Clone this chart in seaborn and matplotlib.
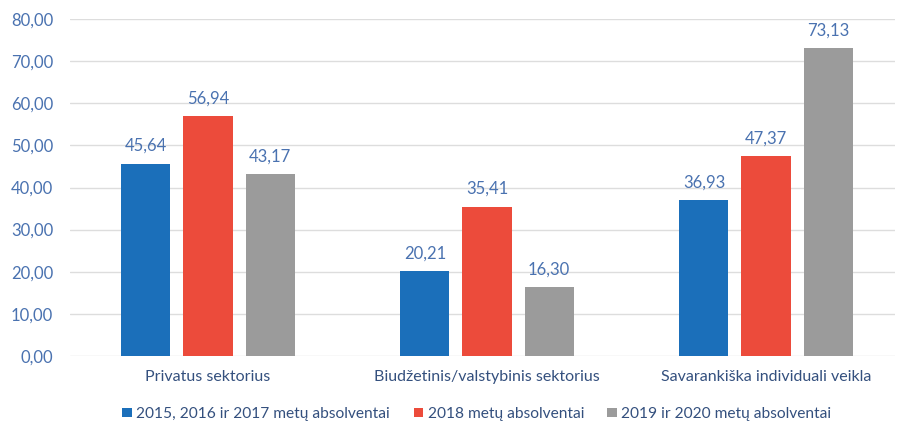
import pandas as pd
import matplotlib.pyplot as plt
import seaborn as sns
from matplotlib.patches import Patch

# Duomenys
kategorijos = ['Privatus sektorius', 'Biudžetinis/valstybinis sektorius', 'Savarankiška individuali veikla']
grupes = ['2015, 2016 ir 2017 metų absolventai', '2018 metų absolventai', '2019 ir 2020 metų absolventai']
reiksmes_2015_2017 = [45.64, 20.21, 36.93]
reiksmes_2018 = [56.94, 35.41, 47.37]
reiksmes_2019_2020 = [43.17, 16.30, 73.13]
y_ticks = [0, 10, 20, 30, 40, 50, 60, 70, 80]

spalvos = ['#1b6fba', '#ec4b3b', '#9b9b9b']
teksto_spalva = '#4a72b0'
kategoriju_spalva = '#34507e'

df = pd.DataFrame({
    'kategorija': kategorijos * 3,
    'grupe': [grupes[0]] * 3 + [grupes[1]] * 3 + [grupes[2]] * 3,
    'reiksme': reiksmes_2015_2017 + reiksmes_2018 + reiksmes_2019_2020,
})

sns.set_style('white')
plt.rcParams['font.family'] = ['Lato', 'DejaVu Sans']

fig = plt.figure(figsize=(9, 4.25), dpi=100)
ax = fig.add_axes([70 / 900, 69 / 425, 825 / 900, 337 / 425])

sns.barplot(data=df, x='kategorija', y='reiksme', hue='grupe', order=kategorijos,
            hue_order=grupes, palette=spalvos, width=0.667, saturation=1,
            legend=False, ax=ax, zorder=3)

# tarpai tarp stulpelių
for p in ax.patches:
    w = p.get_width()
    nw = w * 0.79
    p.set_x(p.get_x() + (w - nw) / 2)
    p.set_width(nw)
    p.set_edgecolor('none')

for cont in ax.containers:
    ax.bar_label(cont, labels=[f'{v:.2f}'.replace('.', ',') for v in cont.datavalues],
                 padding=7, color=teksto_spalva, fontsize=12)

ax.set_ylim(0, 80)
ax.set_xlim((70 - 208) / 279, (895 - 208) / 279)
ax.set_yticks(y_ticks)
ax.set_yticklabels([f'{t:.2f}'.replace('.', ',') for t in y_ticks], color=teksto_spalva, fontsize=12)
ax.tick_params(axis='y', length=0, pad=12)
ax.tick_params(axis='x', length=0, pad=10, labelsize=11.5, labelcolor=kategoriju_spalva)
ax.grid(axis='y', color='#dddddd', linewidth=1, zorder=0)
ax.set_xlabel('')
ax.set_ylabel('')
for s in ax.spines.values():
    s.set_visible(False)

rankenos = [Patch(facecolor=c, edgecolor='none') for c in spalvos]
leg = fig.legend(rankenos, grupes, loc='center', bbox_to_anchor=(0.53, 11 / 425), ncol=3,
                 frameon=False, handlelength=0.6, handleheight=0.6, handletextpad=0.3,
                 columnspacing=1.5, fontsize=11.2)
for t in leg.get_texts():
    t.set_color(kategoriju_spalva)

plt.savefig('out.png', dpi=100)
